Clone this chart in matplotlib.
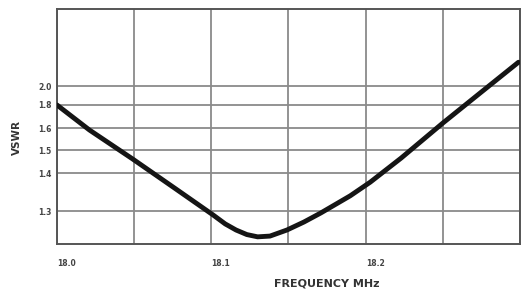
import numpy as np
import matplotlib
matplotlib.use("Agg")
import matplotlib.pyplot as plt
from matplotlib.ticker import FixedLocator, MultipleLocator

# VSWR curve
freq = [18.000, 18.021, 18.049, 18.077, 18.101, 18.109, 18.116, 18.123,
        18.130, 18.138, 18.149, 18.160, 18.171, 18.190, 18.203, 18.223,
        18.250, 18.275, 18.299]
vswr = [1.80, 1.591, 1.461, 1.358, 1.29, 1.266, 1.25, 1.238,
        1.232, 1.234, 1.25, 1.271, 1.295, 1.34, 1.376, 1.465,
        1.643, 1.937, 2.25]

y_ticks = [1.3, 1.4, 1.5, 1.6, 1.8, 2.0]
y_ticklabels = ["1.3", "1.4", "1.5", "1.6", "1.8", "2.0"]
x_ticks = [18.0, 18.1, 18.2]
x_ticklabels = ["18.0", "18.1", "18.2"]

# the printed VSWR scale is not uniform, so map it piecewise
scale_vals = [1.0, 1.3, 1.4, 1.5, 1.6, 1.8, 2.0, 3.0]
scale_pos = [-81, 33, 71, 94, 116, 139, 158, 253]


def fwd(v):
    return np.interp(v, scale_vals, scale_pos)


def inv(p):
    return np.interp(p, scale_pos, scale_vals)


fig = plt.figure(figsize=(5.23, 2.90), dpi=100)
ax = fig.add_axes([57 / 523, 1 - 244 / 290, 463 / 523, 235 / 290])
ax.set_yscale("function", functions=(fwd, inv))

ax.plot(freq, vswr, color="#151515", lw=3.5, solid_capstyle="round",
        solid_joinstyle="round", zorder=3)

ax.set_xlim(18.0, 18.3)
ax.set_ylim(inv(0), inv(235))

ax.xaxis.set_major_locator(FixedLocator(x_ticks))
ax.xaxis.set_minor_locator(MultipleLocator(0.05))
ax.set_xticklabels(x_ticklabels)
ax.yaxis.set_major_locator(FixedLocator(y_ticks))
ax.yaxis.set_minor_locator(FixedLocator([]))
ax.set_yticklabels(y_ticklabels)

ax.grid(True, which="both", color="#8a8a8a", lw=1.3)
ax.tick_params(which="both", length=0)
ax.tick_params(axis="y", pad=4, labelsize=5.5, labelcolor="#444444")
ax.tick_params(axis="x", pad=11, labelsize=5.5, labelcolor="#444444")
for lab in ax.get_xticklabels():
    lab.set_horizontalalignment("left")
    lab.set_fontweight("bold")
for lab in ax.get_yticklabels():
    lab.set_fontweight("bold")

for sp in ax.spines.values():
    sp.set_color("#555555")
    sp.set_linewidth(1.4)

ax.set_ylabel("VSWR", fontsize=7.5, fontweight="bold", color="#333333")
ax.yaxis.set_label_coords(-0.076, 0.455)
ax.set_xlabel("FREQUENCY MHz", fontsize=8, fontweight="bold", color="#333333",
              va="center")
ax.xaxis.set_label_coords(0.583, -0.166)

fig.savefig("out.png", dpi=100)
